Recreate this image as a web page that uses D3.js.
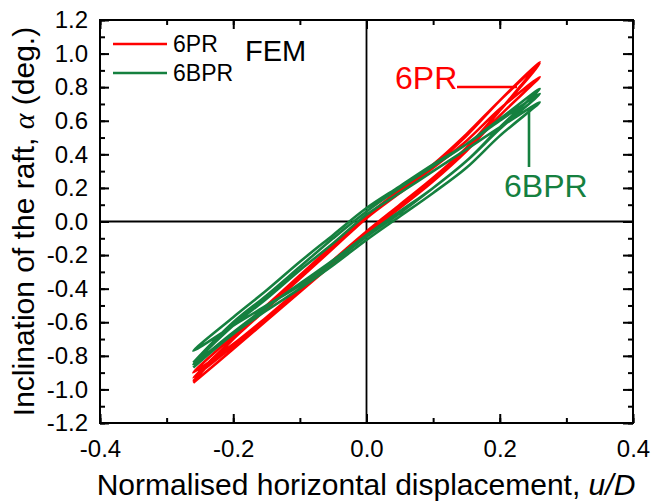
<!DOCTYPE html>
<html>
<head>
<meta charset="utf-8">
<script src="https://cdn.jsdelivr.net/npm/d3@7/dist/d3.min.js"></script>
<style>
  html, body { margin: 0; padding: 0; background: #fff; }
  svg { display: block; }
  text { font-family: "Liberation Sans", Arial, sans-serif; fill: #000; }
</style>
</head>
<body>
<svg id="chart" width="651" height="504"></svg>
<script>
// Normalised displacement grid shared by every branch
const uGrid = [-0.26, -0.2, -0.15, -0.1, -0.05, 0, 0.05, 0.1, 0.15, 0.2, 0.26];

// 6PR: loading (left to right) and unloading (right to left) branches, values on uGrid
const pr_load1   = [-0.96, -0.76, -0.59, -0.42, -0.25, -0.08, 0.08, 0.24, 0.42, 0.63, 0.86];
const pr_unload1 = [-0.93, -0.70, -0.52, -0.34, -0.16, 0.02, 0.17, 0.32, 0.48, 0.67, 0.86];
const pr_load2   = [-0.93, -0.74, -0.57, -0.40, -0.23, -0.06, 0.10, 0.26, 0.44, 0.66, 0.94];
const pr_unload2 = [-0.90, -0.68, -0.50, -0.32, -0.14, 0.03, 0.19, 0.34, 0.52, 0.72, 0.94];
const pr_load3   = [-0.90, -0.73, -0.57, -0.41, -0.24, -0.07, 0.09, 0.25, 0.43, 0.66, 0.95];
const pr_unload3 = [-0.95, -0.70, -0.51, -0.33, -0.15, 0.02, 0.18, 0.33, 0.51, 0.72, 0.95];

// 6BPR branches
const bpr_load1   = [-0.87, -0.67, -0.53, -0.40, -0.26, -0.11, 0.03, 0.17, 0.32, 0.51, 0.71];
const bpr_unload1 = [-0.85, -0.62, -0.46, -0.29, -0.13, 0.04, 0.17, 0.30, 0.43, 0.56, 0.71];
const bpr_load2   = [-0.85, -0.66, -0.51, -0.37, -0.23, -0.08, 0.06, 0.20, 0.36, 0.55, 0.76];
const bpr_unload2 = [-0.77, -0.57, -0.41, -0.24, -0.08, 0.08, 0.21, 0.34, 0.46, 0.60, 0.76];
const bpr_load3   = [-0.77, -0.62, -0.50, -0.38, -0.24, -0.09, 0.05, 0.20, 0.36, 0.56, 0.79];
const bpr_unload3 = [-0.84, -0.60, -0.44, -0.27, -0.10, 0.06, 0.20, 0.33, 0.46, 0.61, 0.79];

const xTicks = [-0.4, -0.2, 0.0, 0.2, 0.4];
const yTicks = [-1.2, -1.0, -0.8, -0.6, -0.4, -0.2, 0.0, 0.2, 0.4, 0.6, 0.8, 1.0, 1.2];
const seriesNames = ["6PR", "6BPR"];
const seriesColors = ["#ff0000", "#15803f"];

const svg = d3.select("#chart");
const plot = { left: 100, top: 20, right: 633, bottom: 423 };

const x = d3.scaleLinear().domain([-0.4, 0.4]).range([plot.left, plot.right]);
const y = d3.scaleLinear().domain([-1.2, 1.2]).range([plot.bottom, plot.top]);

// turn a list of branches into one continuous loop path
function cycle(branches) {
  const pts = [];
  branches.forEach((b, i) => {
    const seg = uGrid.map((u, k) => [u, b[k]]);
    if (i % 2 === 1) seg.reverse();
    seg.forEach((p, k) => { if (!(pts.length && k === 0)) pts.push(p); });
  });
  return pts;
}
const prPath = cycle([pr_load1, pr_unload1, pr_load2, pr_unload2, pr_load3, pr_unload3]);
const bprPath = cycle([bpr_load1, bpr_unload1, bpr_load2, bpr_unload2, bpr_load3, bpr_unload3]);

// zero reference lines
svg.append("line").attr("x1", x(0)).attr("x2", x(0)).attr("y1", plot.top).attr("y2", plot.bottom)
  .attr("stroke", "#000").attr("stroke-width", 1.8);
svg.append("line").attr("x1", plot.left).attr("x2", plot.right).attr("y1", y(0)).attr("y2", y(0))
  .attr("stroke", "#000").attr("stroke-width", 1.8);

// hysteresis loops
const line = d3.line().x(d => x(d[0])).y(d => y(d[1])).curve(d3.curveCatmullRom.alpha(0.5));
svg.append("path").datum(prPath).attr("d", line).attr("fill", "none")
  .attr("stroke", seriesColors[0]).attr("stroke-width", 2.6).attr("stroke-linejoin", "round");
svg.append("path").datum(bprPath).attr("d", line).attr("fill", "none")
  .attr("stroke", seriesColors[1]).attr("stroke-width", 2.6).attr("stroke-linejoin", "round");

// axes: ticks inward on all four sides, hyphen-minus labels
const fmt = v => d3.format(".1f")(v).replace("\u2212", "-");
const minorX = d3.range(-0.4, 0.4001, 0.1);
const minorY = d3.range(-1.2, 1.2001, 0.1);

function styleAxis(g) {
  g.selectAll(".domain").remove();
  g.selectAll(".tick line").attr("stroke", "#000").attr("stroke-width", 2);
  g.selectAll(".tick text").style("font-size", "24px").style("font-family", "'Liberation Sans', Arial, sans-serif");
}

svg.append("g").attr("transform", `translate(0,${plot.bottom})`)
  .call(d3.axisBottom(x).tickValues(minorX).tickSize(-5).tickFormat(""))
  .call(styleAxis);
svg.append("g").attr("transform", `translate(0,${plot.bottom})`)
  .call(d3.axisBottom(x).tickValues(xTicks).tickSize(-9).tickPadding(17).tickFormat(fmt))
  .call(styleAxis);
svg.append("g").attr("transform", `translate(0,${plot.top})`)
  .call(d3.axisTop(x).tickValues(minorX).tickSize(-5).tickFormat(""))
  .call(styleAxis);
svg.append("g").attr("transform", `translate(0,${plot.top})`)
  .call(d3.axisTop(x).tickValues(xTicks).tickSize(-9).tickFormat(""))
  .call(styleAxis);

svg.append("g").attr("transform", `translate(${plot.left},0)`)
  .call(d3.axisLeft(y).tickValues(minorY).tickSize(-5).tickFormat(""))
  .call(styleAxis);
svg.append("g").attr("transform", `translate(${plot.left},0)`)
  .call(d3.axisLeft(y).tickValues(yTicks).tickSize(-9).tickPadding(12).tickFormat(fmt))
  .call(styleAxis);
svg.append("g").attr("transform", `translate(${plot.right},0)`)
  .call(d3.axisRight(y).tickValues(minorY).tickSize(-5).tickFormat(""))
  .call(styleAxis);
svg.append("g").attr("transform", `translate(${plot.right},0)`)
  .call(d3.axisRight(y).tickValues(yTicks).tickSize(-10).tickFormat(""))
  .call(styleAxis);

// frame
svg.append("rect").attr("x", plot.left).attr("y", plot.top)
  .attr("width", plot.right - plot.left).attr("height", plot.bottom - plot.top)
  .attr("fill", "none").attr("stroke", "#000").attr("stroke-width", 2);

// axis titles
const xt = svg.append("text").attr("x", 366).attr("y", 495)
  .attr("text-anchor", "middle").style("font-size", "30px");
xt.append("tspan").text("Normalised horizontal displacement, ");
xt.append("tspan").style("font-style", "italic").text("u/D");

const yt = svg.append("text").attr("transform", `translate(34,${(plot.top + plot.bottom) / 2}) rotate(-90)`)
  .attr("text-anchor", "middle").style("font-size", "30px");
yt.append("tspan").text("Inclination of the raft, ");
yt.append("tspan").style("font-family", "'Liberation Serif', 'Times New Roman', serif")
  .style("font-style", "italic").text("α");
yt.append("tspan").text(" (deg.)");

// legend
seriesNames.forEach((name, i) => {
  const ly = 44 + i * 29;
  svg.append("line").attr("x1", 113).attr("x2", 167).attr("y1", ly).attr("y2", ly)
    .attr("stroke", seriesColors[i]).attr("stroke-width", 2.6);
  svg.append("text").attr("x", 173).attr("y", ly + 8).style("font-size", "23px").text(name);
});
svg.append("text").attr("x", 245).attr("y", 61).style("font-size", "29px").text("FEM");

// series annotations with leader lines
svg.append("text").attr("x", 395).attr("y", 89).style("font-size", "32px")
  .style("fill", seriesColors[0]).text(seriesNames[0]);
svg.append("line").attr("x1", 457).attr("x2", 517).attr("y1", 87).attr("y2", 87)
  .attr("stroke", seriesColors[0]).attr("stroke-width", 2.6);
svg.append("text").attr("x", 504).attr("y", 197).style("font-size", "32px")
  .style("fill", seriesColors[1]).text(seriesNames[1]);
svg.append("line").attr("x1", 529).attr("x2", 529).attr("y1", 110).attr("y2", 167)
  .attr("stroke", seriesColors[1]).attr("stroke-width", 2.6);
</script>
</body>
</html>
